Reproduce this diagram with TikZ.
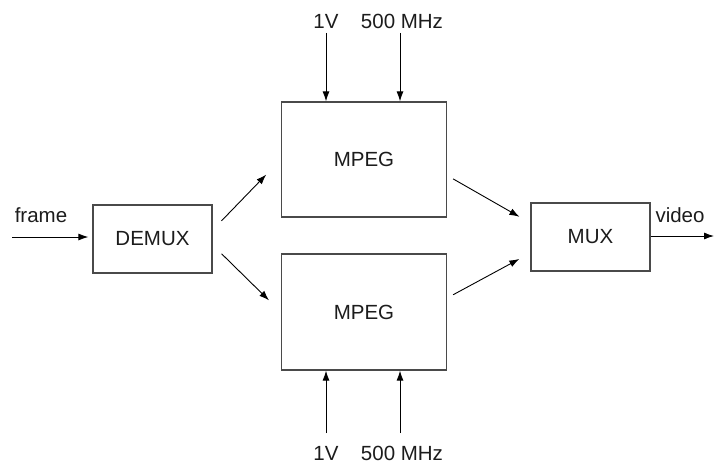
\documentclass[tikz,border=0pt]{standalone}
\usepackage{fontspec}
\setmainfont{Liberation Sans}
\usetikzlibrary{arrows.meta,calc}
\definecolor{boxline}{HTML}{4A4A4A}
\definecolor{txt}{HTML}{1C1C1C}
\begin{document}
\begin{tikzpicture}[x=1pt,y=-1pt,
  font=\fontsize{20.5}{24}\selectfont,
  blk/.style={draw=boxline,line width=1.3pt,rectangle,inner sep=0pt,text=txt},
  lbl/.style={inner sep=0pt,text=txt},
  arr/.style={draw=black,line width=0.9pt,-{Latex[length=10pt,width=7pt]}}]
\useasboundingbox (0,0) rectangle (714,465);
% blocks
\node[blk,minimum width=119pt,minimum height=68pt] (demux) at (152.5,239) {DEMUX};
\node[blk,minimum width=165pt,minimum height=115pt] (mpegT) at (364,159.5) {MPEG};
\node[blk,minimum width=165pt,minimum height=116pt] (mpegB) at (364,312) {MPEG};
\node[blk,minimum width=119pt,minimum height=68pt] (mux) at (590.5,237) {MUX};
% labels
\node[lbl] (frame) at (41,215) {frame};
\node[lbl] (video) at (680,215) {video};
\node[lbl] (t1V) at (326,21) {1V};
\node[lbl] (tMHz) at (402,21) {500 MHz};
\node[lbl] (b1V) at (326,453) {1V};
\node[lbl] (bMHz) at (402,453) {500 MHz};
% free ends
\coordinate (fin) at (12,237);
\coordinate (vout) at (714,236);
\coordinate (ta) at (326,33);
\coordinate (tb) at (400,33);
\coordinate (ba) at (326,433);
\coordinate (bb) at (400,433);
% connectors
\draw[arr,shorten >=4pt] (fin) -- (fin -| demux.west);
\draw[arr] (mux.east |- vout) -- (vout);
\draw[arr,shorten <=12.7pt,shorten >=21pt] ([yshift=9pt]demux.east) -- (mpegT.west);
\draw[arr,shorten <=12.5pt,shorten >=16.6pt] ([yshift=-6pt]demux.east) -- (mpegB.west);
\draw[arr,shorten <=6.9pt,shorten >=12.6pt] ([yshift=-16pt]mpegT.east) -- ([yshift=14pt]mux.west);
\draw[arr,shorten <=6.8pt,shorten >=12.5pt] ([yshift=14pt]mpegB.east) -- ([yshift=-16pt]mux.west);
\draw[arr] (ta) -- (ta |- mpegT.north);
\draw[arr] (tb) -- (tb |- mpegT.north);
\draw[arr] (ba) -- (ba |- mpegB.south);
\draw[arr] (bb) -- (bb |- mpegB.south);
\end{tikzpicture}
\end{document}
